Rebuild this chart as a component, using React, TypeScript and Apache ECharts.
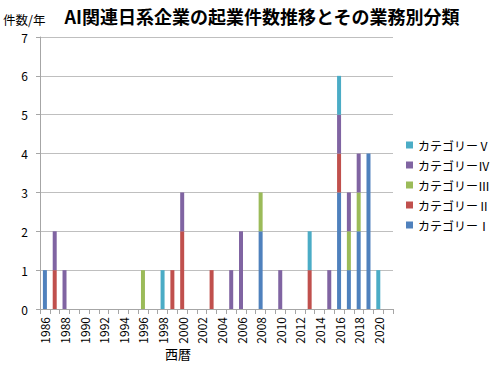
import React, { useEffect, useRef } from "react";
import * as echarts from "echarts";

const years: string[] = [
  "1986","1987","1988","1989","1990","1991","1992","1993","1994","1995",
  "1996","1997","1998","1999","2000","2001","2002","2003","2004","2005",
  "2006","2007","2008","2009","2010","2011","2012","2013","2014","2015",
  "2016","2017","2018","2019","2020","2021",
];
// 1986 ... 2021
const cat1: number[] = [1,0,0,0,0,0,0,0,0,0, 0,0,0,0,0,0,0,0,0,0, 0,0,2,0,0,0,0,0,0,0, 3,1,2,4,0,0];
const cat2: number[] = [0,1,0,0,0,0,0,0,0,0, 0,0,0,1,2,0,0,1,0,0, 0,0,0,0,0,0,0,1,0,0, 1,0,0,0,0,0];
const cat3: number[] = [0,0,0,0,0,0,0,0,0,0, 1,0,0,0,0,0,0,0,0,0, 0,0,1,0,0,0,0,0,0,0, 0,1,1,0,0,0];
const cat4: number[] = [0,1,1,0,0,0,0,0,0,0, 0,0,0,0,1,0,0,0,0,1, 2,0,0,0,1,0,0,0,0,1, 1,1,1,0,0,0];
const cat5: number[] = [0,0,0,0,0,0,0,0,0,0, 0,0,1,0,0,0,0,0,0,0, 0,0,0,0,0,0,0,1,0,0, 1,0,0,0,1,0];

const seriesNames: string[] = ["カテゴリーⅠ", "カテゴリーⅡ", "カテゴリーⅢ", "カテゴリーⅣ", "カテゴリーⅤ"];
const seriesData: number[][] = [cat1, cat2, cat3, cat4, cat5];
const colors: string[] = ["#4F81BD", "#C0504D", "#9BBB59", "#8064A2", "#4BACC6"];

const FONT = "'Noto Sans CJK JP', 'Noto Sans', sans-serif";

export default function App() {
  const ref = useRef<HTMLDivElement>(null);
  useEffect(() => {
    if (!ref.current) return;
    const chart = echarts.init(ref.current, null, { renderer: "svg" });
    chart.setOption({
      animation: false,
      backgroundColor: "#ffffff",
      textStyle: { fontFamily: FONT },
      title: {
        text: "AI関連日系企業の起業件数推移とその業務別分類",
        left: 257,
        textAlign: "center",
        top: 2,
        textStyle: { fontSize: 18, fontWeight: "bold", color: "#000", fontFamily: FONT },
      },
      graphic: [
        {
          type: "text",
          x: 3,
          y: 19,
          style: {
            text: "件数/年",
            fontSize: 12.5,
            lineHeight: 13,
            fontFamily: FONT,
            fill: "#000",
            textAlign: "left",
            textVerticalAlign: "middle",
          },
        },
        {
          type: "text",
          x: 178,
          y: 353,
          style: {
            text: "西暦",
            fontSize: 13,
            fontFamily: FONT,
            fill: "#000",
            textAlign: "center",
            textVerticalAlign: "middle",
          },
        },
      ],
      legend: {
        data: [...seriesNames].reverse(),
        orient: "vertical",
        left: 401,
        top: 134,
        itemWidth: 7,
        itemHeight: 7,
        itemGap: 8,
        icon: "rect",
        textStyle: { fontSize: 12, color: "#000", fontFamily: FONT },
      },
      grid: { left: 40, right: 107, top: 37, bottom: 61 },
      xAxis: {
        type: "category",
        data: years,
        boundaryGap: true,
        axisLine: { lineStyle: { color: "#a6a6a6" } },
        axisTick: { show: true, interval: 0, length: 5, lineStyle: { color: "#a6a6a6" } },
        axisLabel: { interval: 1, rotate: 90, fontSize: 12, color: "#000", margin: 8, fontFamily: FONT },
      },
      yAxis: {
        type: "value",
        min: 0,
        max: 7,
        interval: 1,
        axisLine: { show: true, lineStyle: { color: "#a6a6a6" } },
        axisTick: { show: true, length: 4, lineStyle: { color: "#a6a6a6" } },
        axisLabel: { fontSize: 12, lineHeight: 12, color: "#000", margin: 12, fontFamily: FONT },
        splitLine: { lineStyle: { color: "#bfbfbf" } },
      },
      series: seriesNames.map((name, i) => ({
        name,
        type: "bar",
        stack: "total",
        barWidth: 4,
        data: seriesData[i],
        itemStyle: { color: colors[i] },
      })),
    });
    return () => chart.dispose();
  }, []);
  return (
    <div
      ref={ref}
      style={{ position: "fixed", left: 0, top: 0, width: 500, height: 370 }}
    />
  );
}
